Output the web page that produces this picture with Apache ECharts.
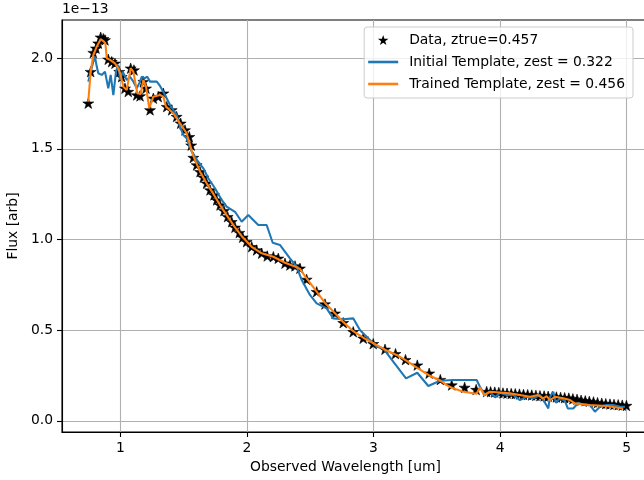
<!DOCTYPE html>
<html>
<head>
<meta charset="utf-8">
<script src="https://cdn.jsdelivr.net/npm/echarts@6/dist/echarts.min.js"></script>
<style>html,body{margin:0;padding:0;background:#fff;}#c{width:644px;height:480px;}</style>
</head>
<body>
<div id="c"></div>
<script>
// ---- data (flux in units of 1e-13) ----
const dataX = [0.747,0.766,0.787,0.808,0.826,0.845,0.866,0.879,0.905,0.932,0.958,0.992,1.011,1.037,1.063,1.082,1.108,1.130,1.156,1.182,1.203,1.235,1.261,1.300,1.340,1.367,1.406,1.445,1.477,1.511,1.545,1.560,1.577,1.603,1.630,1.656,1.682,1.709,1.740,1.761,1.788,1.819,1.848,1.880,1.906,1.940,1.967,1.998,2.038,2.077,2.117,2.161,2.209,2.248,2.301,2.340,2.380,2.419,2.472,2.551,2.617,2.696,2.761,2.840,2.919,2.998,3.091,3.174,3.253,3.346,3.440,3.528,3.618,3.720,3.811,3.894,3.925,3.958,3.990,4.023,4.055,4.088,4.120,4.153,4.185,4.218,4.250,4.283,4.315,4.348,4.380,4.413,4.445,4.478,4.510,4.543,4.575,4.608,4.640,4.673,4.705,4.738,4.770,4.803,4.835,4.868,4.900,4.933,4.965,4.998];
const dataY = [1.752,1.926,2.031,2.055,2.083,2.116,2.108,2.101,1.994,1.981,1.972,1.926,1.898,1.834,1.816,1.945,1.935,1.797,1.792,1.871,1.834,1.715,1.779,1.788,1.807,1.733,1.715,1.678,1.641,1.604,1.567,1.520,1.452,1.411,1.374,1.343,1.310,1.273,1.246,1.218,1.190,1.159,1.126,1.098,1.067,1.038,1.012,0.988,0.960,0.942,0.924,0.909,0.905,0.896,0.869,0.859,0.854,0.841,0.780,0.712,0.644,0.593,0.541,0.491,0.455,0.425,0.394,0.370,0.337,0.307,0.262,0.227,0.197,0.184,0.172,0.161,0.160,0.158,0.156,0.153,0.152,0.150,0.149,0.147,0.145,0.144,0.142,0.140,0.138,0.137,0.135,0.133,0.131,0.129,0.127,0.125,0.121,0.118,0.113,0.110,0.107,0.104,0.100,0.097,0.094,0.092,0.090,0.088,0.086,0.084];

const initX = [0.747,0.766,0.787,0.800,0.814,0.826,0.853,0.879,0.905,0.924,0.945,0.966,0.984,0.998,1.019,1.051,1.077,1.103,1.130,1.156,1.169,1.195,1.213,1.235,1.261,1.288,1.314,1.353,1.393,1.446,1.472,1.498,1.524,1.564,1.616,1.656,1.695,1.748,1.801,1.840,1.906,1.959,2.011,2.064,2.090,2.156,2.204,2.261,2.340,2.393,2.433,2.498,2.551,2.630,2.682,2.761,2.840,2.893,2.946,3.025,3.077,3.156,3.257,3.346,3.433,3.525,3.630,3.815,3.841,3.880,3.920,3.960,3.999,4.052,4.104,4.157,4.210,4.262,4.315,4.355,4.381,4.394,4.420,4.441,4.473,4.512,4.535,4.578,4.618,4.657,4.710,4.749,4.789,4.842,4.894,4.947,4.987];
const initY = [1.871,1.926,1.981,2.009,1.954,1.917,1.908,1.926,1.834,1.908,1.797,1.926,1.963,1.880,1.926,1.880,1.898,1.871,1.834,1.871,1.898,1.890,1.898,1.871,1.871,1.871,1.847,1.797,1.742,1.687,1.622,1.577,1.558,1.485,1.429,1.393,1.338,1.283,1.218,1.181,1.153,1.098,1.135,1.098,1.080,1.080,0.982,0.970,0.896,0.850,0.776,0.694,0.648,0.620,0.565,0.560,0.565,0.501,0.464,0.408,0.400,0.326,0.234,0.265,0.192,0.221,0.225,0.225,0.188,0.142,0.160,0.129,0.155,0.142,0.142,0.114,0.132,0.124,0.142,0.099,0.068,0.132,0.160,0.099,0.124,0.110,0.068,0.068,0.099,0.087,0.087,0.050,0.077,0.087,0.087,0.077,0.077];

const trainX = [0.747,0.766,0.787,0.814,0.845,0.866,0.882,0.893,0.919,0.958,0.984,1.003,1.024,1.051,1.082,1.103,1.134,1.161,1.182,1.203,1.229,1.261,1.314,1.340,1.361,1.419,1.472,1.524,1.577,1.630,1.682,1.740,1.788,1.848,1.906,1.967,2.038,2.117,2.209,2.301,2.380,2.419,2.472,2.551,2.617,2.696,2.761,2.840,2.919,2.998,3.091,3.183,3.253,3.346,3.440,3.528,3.578,3.618,3.709,3.815,3.841,3.873,3.920,4.078,4.236,4.300,4.341,4.368,4.394,4.434,4.499,4.552,4.592,4.710,4.842,4.973];
const trainY = [1.760,1.926,2.018,2.064,2.105,2.095,2.083,2.000,1.991,1.972,1.945,1.908,1.843,1.825,1.945,1.926,1.807,1.803,1.880,1.843,1.724,1.788,1.797,1.788,1.733,1.696,1.641,1.586,1.460,1.374,1.310,1.246,1.190,1.126,1.067,1.012,0.960,0.924,0.905,0.872,0.851,0.838,0.785,0.712,0.650,0.593,0.545,0.494,0.458,0.428,0.392,0.363,0.335,0.292,0.250,0.222,0.197,0.182,0.160,0.149,0.185,0.142,0.160,0.151,0.132,0.142,0.124,0.136,0.114,0.132,0.124,0.114,0.096,0.087,0.081,0.068];

const yTicks = [0, 0.5, 1.0, 1.5, 2.0];
const xTicks = [1, 2, 3, 4, 5];
const names = ['Data, ztrue=0.457', 'Initial Template, zest = 0.322', 'Trained Template, zest = 0.456'];

// ---- chart ----
const zip = (a, b) => a.map((v, i) => [v, b[i]]);
const STAR = 'path://M0,-10 L2.245,-3.09 L9.511,-3.09 L3.633,1.18 L5.878,8.09 L0,3.82 L-5.878,8.09 L-3.633,1.18 L-9.511,-3.09 L-2.245,-3.09 Z';
const BAR = 'path://M0,0 L30,0 L30,2.6 L0,2.6 Z';
const FONT = 'DejaVu Sans';
const FS = 13.89;

const chart = echarts.init(document.getElementById('c'), null, {renderer: 'canvas'});
const axisCommon = {
  axisLine: {show: true, onZero: false, lineStyle: {color: '#000', width: 1.1}},
  axisTick: {show: true, inside: false, length: 5, lineStyle: {color: '#000', width: 1.1}},
  splitLine: {show: true, lineStyle: {color: '#b0b0b0', width: 1.1}},
  axisLabel: {color: '#000', fontFamily: FONT, fontSize: FS, margin: 9}
};
chart.setOption({
  animation: false,
  backgroundColor: '#fff',
  textStyle: {fontFamily: FONT},
  grid: {left: 62, top: 20, width: 591, height: 412, show: true, borderColor: '#000', borderWidth: 1.1, backgroundColor: 'transparent', outerBoundsMode: 'none', containLabel: false},
  xAxis: Object.assign({}, axisCommon, {
    type: 'value', min: 0.5395, max: 5.208,
    axisTick: Object.assign({}, axisCommon.axisTick, {customValues: xTicks}),
    axisLabel: Object.assign({}, axisCommon.axisLabel, {customValues: xTicks, formatter: v => String(Math.round(v))}),
    name: 'Observed Wavelength [um]', nameLocation: 'middle', nameGap: 28,
    nameTextStyle: {color: '#000', fontFamily: FONT, fontSize: FS, padding: [0, 24, 0, 0]}
  }),
  yAxis: Object.assign({}, axisCommon, {
    type: 'value', min: -0.062, max: 2.211,
    axisTick: Object.assign({}, axisCommon.axisTick, {customValues: yTicks}),
    axisLabel: Object.assign({}, axisCommon.axisLabel, {customValues: yTicks, formatter: v => v.toFixed(1)}),
    name: 'Flux [arb]', nameLocation: 'middle', nameGap: 37,
    nameTextStyle: {color: '#000', fontFamily: FONT, fontSize: FS}
  }),
  legend: {
    orient: 'vertical', right: 11, top: 27,
    itemWidth: 30, itemHeight: 10, itemGap: 8,
    padding: [6, 8, 7, 4],
    backgroundColor: 'rgba(255,255,255,0.8)', borderColor: '#cccccc', borderWidth: 1, borderRadius: 3,
    lineStyle: {width: 2.08},
    textStyle: {color: '#000', fontFamily: FONT, fontSize: FS, padding: [0, 0, 0, 6]},
    data: [
      {name: names[0], icon: STAR, itemStyle: {borderWidth: 0}},
      {name: names[1], icon: BAR, lineStyle: {width: 2.08}},
      {name: names[2], icon: BAR, lineStyle: {width: 2.08}}
    ]
  },
  graphic: [{type: 'text', left: 62, top: 2, style: {text: '1e\u221213', fill: '#000', font: FS + 'px "DejaVu Sans"'}}],
  series: [
    {name: names[0], type: 'scatter', data: zip(dataX, dataY), symbol: STAR, symbolSize: [11, 10.5],
     itemStyle: {color: '#000', borderColor: '#000', borderWidth: 0.6, opacity: 1}},
    {name: names[1], type: 'line', data: zip(initX, initY), symbol: 'none', showSymbol: false,
     lineStyle: {color: '#1f77b4', width: 2.08}, itemStyle: {color: '#1f77b4'}},
    {name: names[2], type: 'line', data: zip(trainX, trainY), symbol: 'none', showSymbol: false,
     lineStyle: {color: '#ff7f0e', width: 2.08}, itemStyle: {color: '#ff7f0e'}}
  ]
});
</script>
</body>
</html>
